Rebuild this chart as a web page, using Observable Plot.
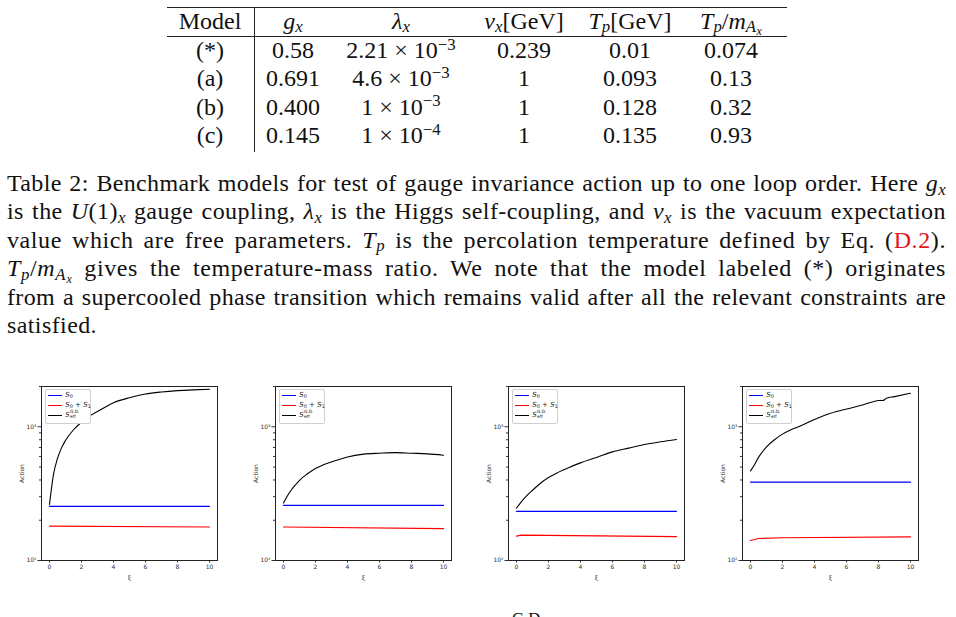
<!DOCTYPE html>
<html>
<head>
<meta charset="utf-8">
<script src="https://cdn.jsdelivr.net/npm/d3@7"></script>
<script src="https://cdn.jsdelivr.net/npm/@observablehq/plot@0.6"></script>
<style>
  html, body { margin: 0; padding: 0; background: #fff; }
  #page { position: relative; width: 956px; height: 617px; overflow: hidden; background: #fff; color: #111;
          font-family: "Liberation Serif", "DejaVu Serif", serif; }
  .abs { position: absolute; }
  .cell { position: absolute; transform: translate(-50%, -50%); white-space: nowrap; font-size: 24px; line-height: 1; }
  .rule { position: absolute; background: #222; }
  sub, sup { font-size: 0.7em; line-height: 0; position: relative; vertical-align: baseline; }
  sub { top: 0.22em; }
  sup { top: -0.5em; }
  sub.x2 { font-size: 0.5em; top: 0.55em; margin-left: 0.5px; }
  .cap { position: absolute; left: 7px; width: 939px; font-size: 24px; line-height: 28.4px; white-space: nowrap; }
  .red { color: #e8141c; }
  .panel { position: absolute; }
  .legend { position: absolute; background: #fff; border: 0.7px solid #d0d0d0; border-radius: 2px;
            font-family: "DejaVu Sans", sans-serif; font-size: 7px; color: #222; }
  .legend .item { position: absolute; left: 0; height: 7px; width: 100%; }
  .legend .sw { position: absolute; left: 1.5px; width: 14px; top: 2.8px; height: 1.2px; }
  .legend .tx { position: absolute; left: 19px; top: -1.8px; white-space: nowrap; }
  .stack { display: inline-block; vertical-align: middle; font-size: 0.62em; line-height: 0.95; margin-left: 0.3px; position: relative; top: -0.3px; }
  .stack span { display: block; }
</style>
</head>
<body>
<div id="page"></div>
<script>
// ---------- Table data ----------
const headers = ["Model", "<i>g</i><sub><i>x</i></sub>", "<i>λ</i><sub><i>x</i></sub>",
  "<i>v</i><sub><i>x</i></sub>[GeV]", "<i>T</i><sub><i>p</i></sub>[GeV]",
  "<i>T</i><sub><i>p</i></sub>/<i>m</i><sub><i>A</i></sub><sub class='x2'><i>x</i></sub>"];
const models = ["(*)", "(a)", "(b)", "(c)"];
const gx = ["0.58", "0.691", "0.400", "0.145"];
const lambdaMant = ["2.21", "4.6", "1", "1"];
const lambdaExp = ["−3", "−3", "−3", "−4"];
const vx = ["0.239", "1", "1", "1"];
const Tp = ["0.01", "0.093", "0.128", "0.135"];
const TpRatio = ["0.074", "0.13", "0.32", "0.93"];

// ---------- Caption text ----------
const captionLines = [
  "Table 2: Benchmark models for test of gauge invariance action up to one loop order. Here <i>g</i><sub><i>x</i></sub>",
  "is the <i>U</i>(1)<sub><i>x</i></sub> gauge coupling, <i>λ</i><sub><i>x</i></sub> is the Higgs self-coupling, and <i>v</i><sub><i>x</i></sub> is the vacuum expectation",
  "value which are free parameters. <i>T</i><sub><i>p</i></sub> is the percolation temperature defined by Eq. (<span class='red'>D.2</span>).",
  "<i>T</i><sub><i>p</i></sub>/<i>m</i><sub><i>A</i></sub><sub class='x2'><i>x</i></sub> gives the temperature-mass ratio. We note that the model labeled (*) originates",
  "from a supercooled phase transition which remains valid after all the relevant constraints are",
  "satisfied."
];

// ---------- Chart data (ξ vs action, four benchmark models) ----------
const xiS0 = [0, 10];
const S0 = [[254, 254], [258, 258], [233, 233], [385, 385]];

const xiS01 = [[0, 10], [0, 10], [0, 0.3, 10], [0, 0.5, 2, 10]];
const S01 = [[181, 178], [178, 173], [152, 155, 151], [141, 146, 148, 150]];

const xiEff = [
  [0, 0.25, 0.5, 0.75, 1, 1.5, 2, 2.5, 3, 4, 5, 6, 7, 8, 9, 10],
  [0, 0.25, 0.5, 0.75, 1, 1.5, 2, 2.5, 3, 4, 5, 6, 7, 8, 9, 10],
  [0, 0.25, 0.5, 0.75, 1, 1.5, 2, 2.5, 3, 4, 5, 6, 7, 8, 9, 10],
  [0, 0.25, 0.5, 0.75, 1, 1.5, 2, 2.5, 3, 4, 5, 6, 7, 7.5, 8, 8.3, 8.5, 9, 10]
];
const Seff = [
  [263, 440, 580, 695, 790, 950, 1080, 1200, 1300, 1514, 1650, 1758, 1820, 1862, 1888, 1906],
  [269, 305, 338, 368, 398, 445, 487, 520, 546, 595, 624, 634, 641, 634, 627, 613],
  [247, 270, 293, 315, 335, 378, 417, 450, 479, 537, 589, 649, 692, 737, 772, 804],
  [468, 520, 590, 650, 708, 800, 881, 945, 1000, 1135, 1260, 1358, 1455, 1520, 1570, 1575, 1633, 1680, 1780]
];
const xTicks = [0, 2, 4, 6, 8, 10];
const yMajor = [100, 1000];
const yMinor = [200, 300, 400, 500, 600, 700, 800, 900, 2000];
const seriesColors = ["blue", "red", "black"];

// ---------- Layout ----------
const page = document.getElementById("page");
function add(html, cls, style) {
  const d = document.createElement("div");
  d.className = cls; d.innerHTML = html; Object.assign(d.style, style); page.appendChild(d); return d;
}

// table
const colX = [210, 293, 401, 524, 630, 731];
const rowY = [50, 78, 106.5, 135];
add("", "rule", {left: "167px", top: "6.5px", width: "620px", height: "1.3px"});
add("", "rule", {left: "167px", top: "35.5px", width: "620px", height: "0.9px"});
add("", "rule", {left: "253.6px", top: "7px", width: "0.9px", height: "145px"});
headers.forEach((h, j) => add(h, "cell", {left: colX[j] + "px", top: "20.5px"}));
models.forEach((m, i) => {
  const cells = [m, gx[i], lambdaMant[i] + " × 10<sup>" + lambdaExp[i] + "</sup>", vx[i], Tp[i], TpRatio[i]];
  cells.forEach((c, j) => add(c, "cell", {left: colX[j] + "px", top: rowY[i] + "px"}));
});

// caption, each line justified to the text width (spread over letters and spaces)
captionLines.forEach((t, i) => {
  const d = add("<span>" + t + "</span>", "cap", {top: (169 + i * 28.4) + "px"});
  const span = d.firstChild;
  const txt = span.textContent;
  const chars = txt.length;
  if (i < captionLines.length - 1) {
    const w = span.getBoundingClientRect().width;
    const spaces = (txt.match(/ /g) || []).length;
    const extra = 939 - w;
    const ls = Math.max(-0.3, Math.min(0.6, extra * 0.6 / chars));
    span.style.letterSpacing = ls + "px";
    const w2 = span.getBoundingClientRect().width;
    span.style.wordSpacing = ((939 - w2) / spaces) + "px";
  } else {
    span.style.letterSpacing = "0.4px";
  }
});

// cut-off next caption fragment at the bottom edge
add("<i>S</i><sup>G.D.</sup>", "abs", {left: "500px", top: "611px", fontSize: "24px"});

// panels
const frameLeft = [41, 275, 508, 742];
const frameTop = 386;
const mL = 40, mR = 5, mT = 5, mB = 30;
const fw = 176, fh = 174;

for (let p = 0; p < 4; p++) {
  const blue = xiS0.map((x, j) => ({xi: x, action: S0[p][j]}));
  const red = xiS01[p].map((x, j) => ({xi: x, action: S01[p][j]}));
  const black = xiEff[p].map((x, j) => ({xi: x, action: Seff[p][j]}));
  const chart = Plot.plot({
    width: fw + mL + mR, height: fh + mT + mB,
    marginLeft: mL, marginRight: mR, marginTop: mT, marginBottom: mB,
    style: {fontFamily: "DejaVu Sans, sans-serif", fontSize: "6px", color: "#333", background: "transparent", overflow: "visible"},
    x: {domain: [-0.5, 10.5]},
    y: {type: "log", domain: [100, 2000]},
    marks: [
      Plot.line(blue, {x: "xi", y: "action", stroke: seriesColors[0], strokeWidth: 1.2}),
      Plot.line(red, {x: "xi", y: "action", stroke: seriesColors[1], strokeWidth: 1.2}),
      Plot.line(black, {x: "xi", y: "action", stroke: seriesColors[2], strokeWidth: 1.1, curve: "monotone-x"}),
      Plot.axisX({ticks: xTicks, tickSize: 2.5, tickPadding: 1.5, label: "ξ", labelAnchor: "center", labelArrow: "none", labelOffset: 19, fontSize: 6}),
      Plot.axisY({ticks: yMajor, tickSize: 3.5, tickPadding: 1.5, tickFormat: d => d === 100 ? "10²" : "10³",
                  label: "Action", labelAnchor: "center", labelArrow: "none", labelOffset: 22, fontSize: 6}),
      Plot.axisY({ticks: yMinor, tickSize: 2, tickFormat: () => "", label: null}),
      Plot.frame({stroke: "#222", strokeWidth: 1})
    ]
  });
  const holder = document.createElement("div");
  holder.className = "panel";
  holder.style.left = (frameLeft[p] - mL) + "px";
  holder.style.top = (frameTop - mT) + "px";
  holder.appendChild(chart);
  page.appendChild(holder);

  // legend box (upper left inside the frame)
  const lg = document.createElement("div");
  lg.className = "legend";
  Object.assign(lg.style, {left: (frameLeft[p] + 4.3) + "px", top: (frameTop + 3.3) + "px", width: "44px", height: "32.5px"});
  const labels = ["<i>S</i><sub>0</sub>", "<i>S</i><sub>0</sub> + <i>S</i><sub>1</sub>",
                  "<i>S</i><span class='stack'><span>G.D.</span><span>eff</span></span>"];
  labels.forEach((l, k) => {
    const it = document.createElement("div");
    it.className = "item";
    it.style.top = (2.2 + k * 10) + "px";
    it.innerHTML = `<div class="sw" style="background:${seriesColors[k]}"></div><div class="tx">${l}</div>`;
    lg.appendChild(it);
  });
  page.appendChild(lg);
}
</script>
</body>
</html>
